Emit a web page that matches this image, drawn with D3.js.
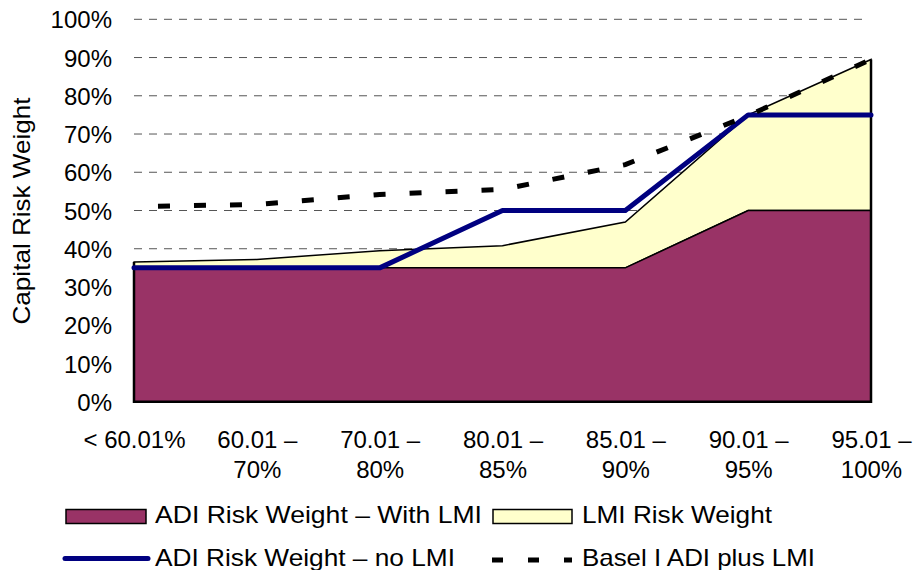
<!DOCTYPE html>
<html>
<head>
<meta charset="utf-8">
<script src="https://cdn.jsdelivr.net/npm/d3@7"></script>
<style>
  html, body { margin: 0; padding: 0; background: #fff; }
  svg { display: block; }
  text { font-family: "Liberation Sans", Arial, sans-serif; fill: #000; }
</style>
</head>
<body>
<svg id="chart" width="914" height="570"></svg>
<script>
// ---- data ----
const categories = ["< 60.01%", "60.01 –\n70%", "70.01 –\n80%", "80.01 –\n85%", "85.01 –\n90%", "90.01 –\n95%", "95.01 –\n100%"];
const adiWithLMI = [35, 35, 35, 35, 35, 50, 50];
const lmiRiskWeight = [1.5, 2.2, 4.5, 5.8, 12, 25, 39.5];
const adiNoLMI = [35, 35, 35, 50, 50, 75, 75];
const baselPlusLMI = [51, 51.6, 54.2, 55.5, 62, 74.8, 89.5];
const yTicks = [0, 10, 20, 30, 40, 50, 60, 70, 80, 90, 100];
const yTitle = "Capital Risk Weight";
const legendItems = ["ADI Risk Weight – With LMI", "LMI Risk Weight", "ADI Risk Weight – no LMI", "Basel I ADI plus LMI"];

// ---- layout ----
const svg = d3.select("#chart");
const x0 = 134, x1 = 871, yBottom = 401.7, yTop = 19.3;

const x = d3.scalePoint().domain(categories).range([x0, x1]);
const y = d3.scaleLinear().domain([0, 100]).range([yBottom, yTop]);

const rows = categories.map((c, i) => ({ cat: c, adi: adiWithLMI[i], lmi: lmiRiskWeight[i] }));
const stacked = d3.stack().keys(["adi", "lmi"])(rows);

// gridlines
svg.append("g").selectAll("line").data(yTicks.filter(d => d > 0)).join("line")
  .attr("x1", x0).attr("x2", 863)
  .attr("y1", d => y(d)).attr("y2", d => y(d))
  .attr("stroke", "#555").attr("stroke-width", 1)
  .attr("stroke-dasharray", "8,7");

// areas
const area = d3.area()
  .x(d => x(d.data.cat))
  .y0(d => y(d[0]))
  .y1(d => y(d[1]));
const fills = ["#993366", "#FFFFCC"];
svg.append("g").selectAll("path").data(stacked.slice().reverse()).join("path")
  .attr("d", area)
  .attr("fill", (d) => fills[d.index])
  .attr("stroke", "#000")
  .attr("stroke-width", 1.5)
  .attr("stroke-linejoin", "miter");

// frame edges (left, bottom, right)
svg.append("path")
  .attr("d", `M${x0},${y(stacked[1][0][1])}L${x0},${y(0)}L${x1},${y(0)}L${x1},${y(stacked[1][6][1])}`)
  .attr("fill", "none").attr("stroke", "#000").attr("stroke-width", 2.5);

// lines
const line = d3.line().x((d, i) => x(categories[i])).y(d => y(d));
svg.append("path").datum(adiNoLMI)
  .attr("d", line).attr("fill", "none")
  .attr("stroke", "#000080").attr("stroke-width", 5)
  .attr("stroke-linejoin", "round").attr("stroke-linecap", "round");

svg.append("path").datum(baselPlusLMI)
  .attr("d", line).attr("fill", "none")
  .attr("stroke", "#000").attr("stroke-width", 5)
  .attr("stroke-dasharray", "12,24").attr("stroke-dashoffset", 12);

// y axis labels
const yAxis = d3.axisLeft(y).tickValues(yTicks).tickFormat(d => d + "%").tickSize(0).tickPadding(0);
const yg = svg.append("g").attr("transform", "translate(112,0)").call(yAxis);
yg.select(".domain").remove();
yg.selectAll("text").attr("font-size", 24).attr("font-family", "Liberation Sans, Arial, sans-serif").attr("fill", "#000").attr("dy", "0.36em");

// y title
svg.append("text")
  .attr("transform", "translate(30,211) rotate(-90)")
  .attr("text-anchor", "middle")
  .attr("font-size", 24)
  .attr("textLength", 227).attr("lengthAdjust", "spacingAndGlyphs")
  .text(yTitle);

// x axis labels
const xAxis = d3.axisBottom(x).tickSize(0).tickFormat(() => "");
const xg = svg.append("g").attr("transform", `translate(0,${yBottom})`).call(xAxis);
xg.select(".domain").remove();
xg.selectAll(".tick").each(function(d) {
  const parts = d.split("\n");
  const t = d3.select(this).append("text")
    .attr("text-anchor", "middle").attr("font-size", 24).attr("fill", "#000");
  parts.forEach((p, i) => {
    t.append("tspan").attr("x", 0).attr("y", i === 0 ? 46 : 76).text(p);
  });
});

// legend
const lg = svg.append("g");
lg.append("rect").attr("x", 66).attr("y", 509.5).attr("width", 80).attr("height", 14)
  .attr("fill", fills[0]).attr("stroke", "#000").attr("stroke-width", 1.5);
lg.append("rect").attr("x", 493).attr("y", 509.5).attr("width", 79).attr("height", 14)
  .attr("fill", fills[1]).attr("stroke", "#000").attr("stroke-width", 1.5);
lg.append("line").attr("x1", 65).attr("x2", 148).attr("y1", 558.5).attr("y2", 558.5)
  .attr("stroke", "#000080").attr("stroke-width", 5).attr("stroke-linecap", "round");
lg.append("line").attr("x1", 492).attr("x2", 572).attr("y1", 560).attr("y2", 560)
  .attr("stroke", "#000").attr("stroke-width", 5).attr("stroke-dasharray", "11,25");

const legendPos = [[155, 523, 327], [582, 523, 190], [155, 566, 300], [582, 566, 233]];
legendItems.forEach((t, i) => {
  lg.append("text").attr("x", legendPos[i][0]).attr("y", legendPos[i][1])
    .attr("font-size", 24)
    .attr("textLength", legendPos[i][2]).attr("lengthAdjust", "spacingAndGlyphs")
    .text(t);
});
</script>
</body>
</html>
